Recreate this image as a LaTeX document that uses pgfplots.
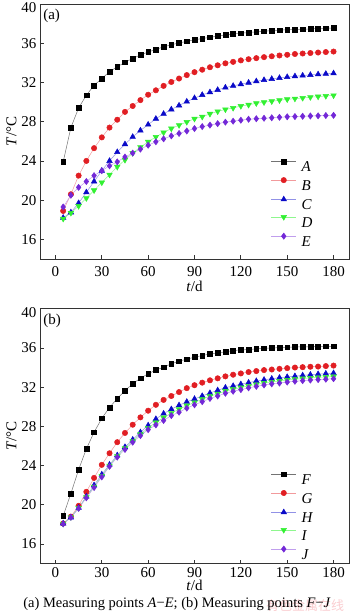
\documentclass[border=0pt]{standalone}
\usepackage{fontspec}
\setmainfont{Liberation Serif}
\newfontfamily\cjk{Noto Sans CJK SC}
\usepackage{pgfplots}
\usepackage{pgfplotstable}
\pgfplotsset{compat=1.18}

\definecolor{cA}{RGB}{0,0,0}
\definecolor{cB}{RGB}{225,30,35}
\definecolor{cC}{RGB}{10,10,200}
\definecolor{cD}{RGB}{50,240,50}
\definecolor{cE}{RGB}{115,40,215}
\definecolor{wm}{RGB}{250,205,208}

\pgfplotstableread{
t A B C D E
5 23.9 18.9 18.2 18.1 19.3
10 27.4 20.6 18.75 18.7 20.5
15 29.4 22.5 19.7 19.4 21.3
20 30.7 24.0 20.8 20.2 21.9
25 31.7 25.3 21.9 21.0 22.5
30 32.4 26.4 23.0 21.8 23.0
35 33.1 27.4 24.0 22.6 23.5
40 33.6 28.2 24.9 23.4 23.9
45 34.05 29.0 25.7 24.1 24.4
50 34.45 29.6 26.45 24.8 24.8
55 34.8 30.2 27.1 25.4 25.2
60 35.1 30.75 27.7 25.95 25.6
65 35.37 31.2 28.3 26.45 25.95
70 35.63 31.65 28.8 26.9 26.25
75 35.85 32.05 29.25 27.3 26.55
80 36.02 32.4 29.65 27.65 26.8
85 36.2 32.75 30.05 27.97 27.05
90 36.35 33.05 30.4 28.3 27.3
95 36.48 33.3 30.73 28.5 27.5
100 36.6 33.55 31.0 28.8 27.65
105 36.73 33.75 31.24 29.05 27.8
110 36.84 33.95 31.48 29.25 27.95
115 36.94 34.1 31.65 29.4 28.05
120 37.02 34.25 31.82 29.6 28.15
125 37.09 34.37 31.98 29.72 28.25
130 37.16 34.48 32.12 29.88 28.3
135 37.22 34.58 32.25 29.98 28.35
140 37.28 34.67 32.36 30.08 28.4
145 37.33 34.75 32.46 30.18 28.45
150 37.37 34.82 32.55 30.28 28.5
155 37.4 34.9 32.63 30.35 28.52
160 37.43 34.95 32.7 30.42 28.55
165 37.46 35.0 32.77 30.5 28.58
170 37.5 35.05 32.83 30.56 28.6
175 37.53 35.1 32.88 30.62 28.63
180 37.55 35.15 32.93 30.68 28.65
}\tablea

\pgfplotstableread{
t F G H I J
5 18.87 18.1 18.1 18.08 18.06
10 21.16 18.8 18.7 18.75 18.73
15 23.59 19.9 19.7 19.68 19.64
20 25.71 21.33 20.85 20.78 20.72
25 27.4 22.75 22.0 21.85 21.77
30 28.82 24.08 23.1 22.95 22.85
35 29.93 25.26 24.1 24.0 23.93
40 30.84 26.39 25.05 24.95 24.87
45 31.62 27.33 25.9 25.77 25.65
50 32.36 28.17 26.65 26.5 26.39
55 32.9 28.92 27.4 27.2 27.06
60 33.37 29.6 28.1 27.85 27.67
65 33.74 30.2 28.75 28.4 28.15
70 34.04 30.7 29.3 28.9 28.6
75 34.38 31.1 29.75 29.35 29.1
80 34.65 31.5 30.15 29.75 29.45
85 34.85 31.9 30.5 30.12 29.86
90 35.06 32.2 30.8 30.45 30.2
95 35.22 32.46 31.1 30.76 30.52
100 35.39 32.7 31.4 31.07 30.85
105 35.49 32.9 31.68 31.33 31.1
110 35.6 33.1 31.95 31.6 31.38
115 35.73 33.27 32.12 31.78 31.58
120 35.8 33.4 32.3 31.96 31.75
125 35.83 33.54 32.46 32.13 31.93
130 35.9 33.64 32.62 32.28 32.08
135 35.97 33.74 32.75 32.42 32.22
140 36.0 33.8 32.86 32.54 32.34
145 36.03 33.87 32.96 32.63 32.42
150 36.07 33.94 33.04 32.73 32.52
155 36.1 34.0 33.12 32.8 32.6
160 36.1 34.04 33.2 32.88 32.66
165 36.13 34.08 33.27 32.94 32.72
170 36.15 34.1 33.33 33.0 32.77
175 36.17 34.15 33.38 33.04 32.81
180 36.17 34.2 33.43 33.08 32.86
}\tableb

\pgfplotsset{
  myaxis/.style={
    scale only axis, width=309pt, height=255pt,
    xmin=-10, xmax=190, ymin=14, ymax=40,
    xtick={0,30,...,180}, ytick={16,20,...,36},
    extra y ticks={40},
    extra y tick style={yticklabel style={yshift=-3.5pt}},
    tick pos=left, tick align=inside, major tick length=4pt,
    axis line style={line width=0.8pt, black!80},
    every tick/.style={line width=0.8pt, black!80},
    font=\fontsize{15}{18}\selectfont,
    /pgf/number format/assume math mode=true,
    xlabel={\textit{t}/d}, ylabel={\textit{T}/°C},
    ylabel style={yshift=-2pt},
    legend cell align=left,
    legend image code/.code={
      \draw[##1] (0pt,5pt) -- (25pt,5pt);
      \draw[##1, only marks] plot coordinates {(12.5pt,5pt)};
    },
    legend style={draw=none, fill=none, inner sep=0pt,
      font=\fontsize{15}{18}\selectfont, row sep=5.8pt,
      nodes={inner sep=0pt, text height=10.5pt, text depth=0pt},
      /tikz/every odd column/.append style={column sep=5pt}},
  },
  sA/.style={color=cA!55, line width=0.5pt, mark=square*, mark size=2.4pt, mark options={draw=cA, fill=cA, solid}},
  sB/.style={color=cB!45, line width=0.5pt, mark=*, mark size=2.7pt, mark options={draw=cB, fill=cB, solid}},
  sC/.style={color=cC!45, line width=0.5pt, mark=triangle*, mark size=3.2pt, mark options={draw=cC, fill=cC, solid}},
  sD/.style={color=cD!55, line width=0.5pt, mark=triangle*, mark size=3.2pt, mark options={draw=cD, fill=cD, solid, rotate=180}},
  sE/.style={color=cE!45, line width=0.5pt, mark=diamond*, mark size=3.1pt, mark options={draw=cE, fill=cE, solid}},
}

\begin{document}
\begin{tikzpicture}[x=1pt,y=1pt]
\useasboundingbox (0,0) rectangle (350,615);

\begin{axis}[myaxis, at={(40pt,356pt)}, anchor=south west,
  xticklabel style={yshift=-4pt}, xlabel style={yshift=2pt},
  legend style={at={(0.747,0.393)}, anchor=north west}]
  \addplot[sA] table[x=t,y=A] {\tablea}; \addlegendentry{\textit{A}}
  \addplot[sB] table[x=t,y=B] {\tablea}; \addlegendentry{\textit{B}}
  \addplot[sC] table[x=t,y=C] {\tablea}; \addlegendentry{\textit{C}}
  \addplot[sD] table[x=t,y=D] {\tablea}; \addlegendentry{\textit{D}}
  \addplot[sE] table[x=t,y=E] {\tablea}; \addlegendentry{\textit{E}}
  \node[anchor=west, inner sep=0pt] at (rel axis cs:0.01,0.953) {(a)};
\end{axis}

\begin{axis}[myaxis, at={(40pt,51.3pt)}, anchor=south west,
  xticklabel style={yshift=0pt}, xlabel style={yshift=4pt},
  legend style={at={(0.747,0.361)}, anchor=north west}]
  \addplot[sA] table[x=t,y=F] {\tableb}; \addlegendentry{\textit{F}}
  \addplot[sB] table[x=t,y=G] {\tableb}; \addlegendentry{\textit{G}}
  \addplot[sC] table[x=t,y=H] {\tableb}; \addlegendentry{\textit{H}}
  \addplot[sD] table[x=t,y=I] {\tableb}; \addlegendentry{\textit{I}}
  \addplot[sE] table[x=t,y=J] {\tableb}; \addlegendentry{\textit{J}}
  \node[anchor=west, inner sep=0pt] at (rel axis cs:0.01,0.953) {(b)};
\end{axis}

\node[text=wm, font=\cjk\fontsize{13}{15}\selectfont, inner sep=0pt] at (305,9) {有色金属在线};
\node[font=\fontsize{14.5}{16}\selectfont, inner sep=0pt] at (177,11) {(a) Measuring points \textit{A}−\textit{E}; (b) Measuring points \textit{F}−\textit{J}};
\end{tikzpicture}
\end{document}
